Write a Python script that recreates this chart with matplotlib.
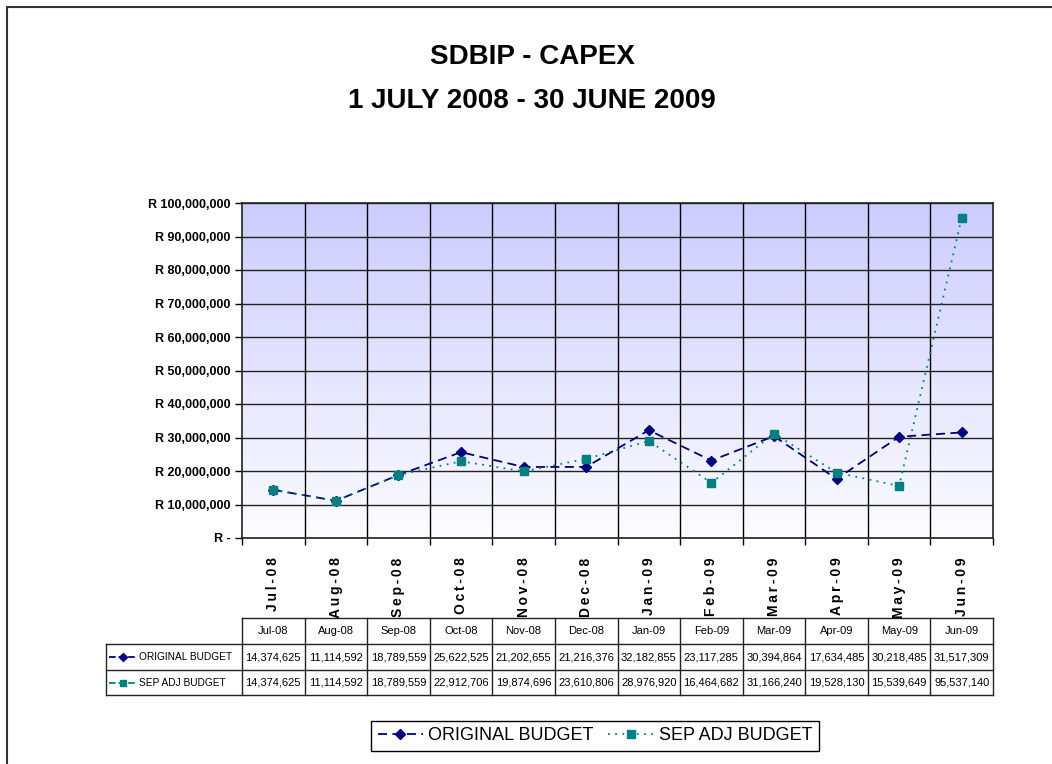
import numpy as np
import matplotlib
matplotlib.use("Agg")
import matplotlib.pyplot as plt
from matplotlib.patches import Rectangle
from matplotlib.ticker import FuncFormatter, MultipleLocator

plt.rcParams['font.family'] = ['Liberation Sans', 'DejaVu Sans']

months = ['Jul-08', 'Aug-08', 'Sep-08', 'Oct-08', 'Nov-08', 'Dec-08',
          'Jan-09', 'Feb-09', 'Mar-09', 'Apr-09', 'May-09', 'Jun-09']
original_budget = [14374625, 11114592, 18789559, 25622525, 21202655, 21216376,
                   32182855, 23117285, 30394864, 17634485, 30218485, 31517309]
sep_adj_budget = [14374625, 11114592, 18789559, 22912706, 19874696, 23610806,
                  28976920, 16464682, 31166240, 19528130, 15539649, 95537140]
series_names = ['ORIGINAL BUDGET', 'SEP ADJ BUDGET']

W, H = 1052, 764
fig = plt.figure(figsize=(W / 100, H / 100), dpi=100)


def px(x0, y0, x1, y1):
    """pixel box (top-left origin) -> figure rect"""
    return [x0 / W, 1 - y1 / H, (x1 - x0) / W, (y1 - y0) / H]


# outer frame (only top/left visible in the reference)
fig.patches.append(Rectangle((7 / W, -0.1), 1.2, 1 - 7 / H + 0.1, transform=fig.transFigure,
                             fill=False, edgecolor='#333333', linewidth=1.5))

# title
fig.text(532 / W, 1 - 57 / H, 'SDBIP - CAPEX', ha='center', va='center',
         fontsize=20, fontweight='bold')
fig.text(532 / W, 1 - 101 / H, '1 JULY 2008 - 30 JUNE 2009', ha='center', va='center',
         fontsize=20, fontweight='bold')

ax = fig.add_axes(px(242, 203, 993, 538))
x = np.arange(len(months))

# gradient background
grad = np.linspace(0, 1, 256).reshape(-1, 1, 1)
top = np.array([204, 204, 255]) / 255
bot = np.array([252, 252, 255]) / 255
img = top * (1 - grad) + bot * grad
ax.imshow(img, extent=[0, 1, 0, 1], transform=ax.transAxes, aspect='auto', zorder=0)

l1, = ax.plot(x, original_budget, color='#000080', linestyle=(0, (5, 3)), linewidth=1.3,
              marker='D', markersize=5, zorder=3, label=series_names[0])
l2, = ax.plot(x, sep_adj_budget, color='#008080', linestyle=(0, (1, 3)), linewidth=1.3,
              marker='s', markersize=6, zorder=4, label=series_names[1])

ax.set_xlim(-0.5, len(months) - 0.5)
ax.set_ylim(0, 100000000)
ax.yaxis.set_major_locator(MultipleLocator(10000000))
ax.yaxis.set_major_formatter(FuncFormatter(lambda v, p: 'R -' if v == 0 else f'R {v:,.0f}'))
ax.grid(axis='y', color='#222222', linewidth=1.0, zorder=1)
ax.set_axisbelow(True)

ax.set_xticks(x)
ax.set_xticklabels(['\u2009'.join(m) for m in months], rotation=90, fontweight='bold', fontsize=10)
ax.set_xticks(np.arange(-0.5, len(months)), minor=True)
ax.tick_params(axis='x', which='major', length=0, pad=14)
ax.tick_params(axis='x', which='minor', length=5, width=1)
ax.tick_params(axis='y', length=5, width=1, labelsize=9)
for lab in ax.get_yticklabels():
    lab.set_fontweight('bold')
for xb in np.arange(0.5, len(months) - 0.5):
    ax.axvline(xb, color='black', linewidth=1.0, zorder=1)
for s in ax.spines.values():
    s.set_color('#222222')
    s.set_linewidth(1.2)

# data table
tab = fig.add_axes(px(104, 616, 995, 697))
tab.set_xlim(104, 995)
tab.set_ylim(697, 616)
tab.axis('off')
col_w = (993 - 242) / len(months)
rows_y = [618, 644, 670, 695]
lc = '#222222'
tab.plot([242, 993], [618, 618], color=lc, lw=1)
for i in range(len(months) + 1):
    tab.plot([242 + i * col_w] * 2, [618, 695], color=lc, lw=1)
for yl in rows_y[1:]:
    tab.plot([106, 993], [yl, yl], color=lc, lw=1)
tab.plot([106, 106], [644, 695], color=lc, lw=1)
for i, m in enumerate(months):
    tab.text(242 + (i + 0.5) * col_w, 631, m, ha='center', va='center', fontsize=8)
for r, (vals, name, line) in enumerate(zip([original_budget, sep_adj_budget], series_names, [l1, l2])):
    yc = (rows_y[r + 1] + rows_y[r + 2]) / 2
    for i, v in enumerate(vals):
        tab.text(242 + (i + 0.5) * col_w, yc, f'{v:,}', ha='center', va='center', fontsize=8)
    tab.plot([109, 137], [yc, yc], color=line.get_color(), linestyle=line.get_linestyle(), lw=1.3)
    tab.plot([123], [yc], color=line.get_color(), marker=line.get_marker(), markersize=4.5)
    tab.text(139, yc, name, ha='left', va='center', fontsize=7.3)

fig.legend(handles=[l1, l2], loc='center', bbox_to_anchor=(595 / W, 1 - 736 / H), ncol=2,
           fontsize=13, frameon=True, fancybox=False, edgecolor='black', framealpha=1,
           handlelength=2.5, columnspacing=0.8, handletextpad=0.3, borderpad=0.35)

fig.savefig('out.png', dpi=100)
